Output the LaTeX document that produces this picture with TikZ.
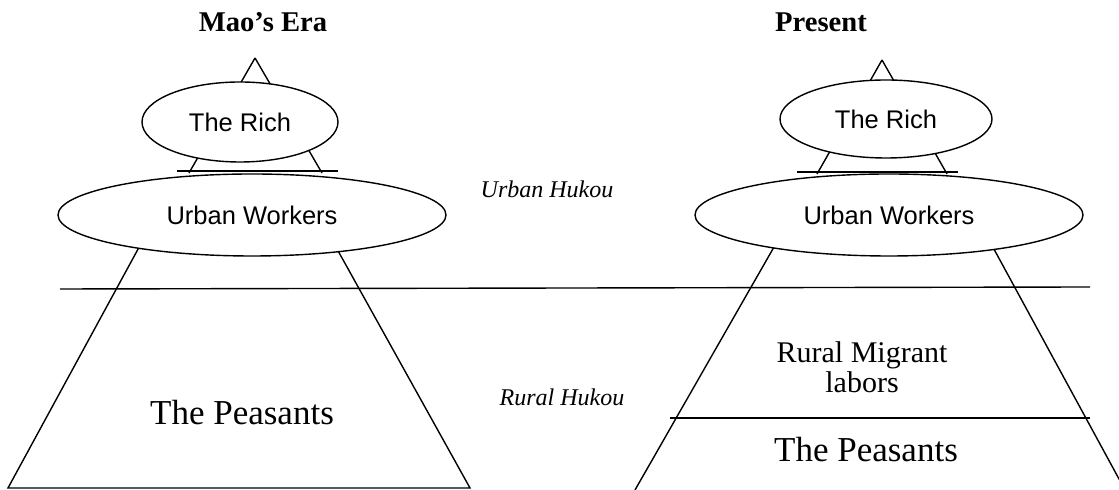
\documentclass[tikz,border=0pt]{standalone}
\usepackage{fontspec}
\setmainfont{Liberation Serif}
\newfontfamily\labelsf{Liberation Sans}
\usetikzlibrary{shapes.geometric}

\begin{document}
\begin{tikzpicture}[x=0.5pt, y=-0.5pt, line width=0.7pt,
    class/.style={ellipse, draw, fill=white, inner sep=0pt,
      font=\labelsf\fontsize{12.75}{15}\selectfont},
    era/.style={font=\bfseries\fontsize{14.3}{17}\selectfont},
    hukou/.style={font=\itshape\fontsize{12}{14}\selectfont, anchor=base},
    peasant/.style={font=\fontsize{17.5}{20}\selectfont, anchor=base}]
        % ==== FRAME ====
        \clip (0,0) rectangle (1119,490);
        % ==== LEFT PYRAMID (MAO'S ERA) ====
        \draw (255,58) -- (189,173) (255,58) -- (322,173);
        \draw (177,171) -- (338,171);
        \draw (143,240) -- (8,488) -- (470,488) -- (332,240);
        % ==== RIGHT PYRAMID (PRESENT) ====
        \draw (882,60) -- (817,174) (882,60) -- (947,174);
        \draw (797,172) -- (958,172);
        \draw (778,240) -- (635,490);
        \draw (989,240) -- (1125,490);
        \draw (670,418) -- (1090,418);
        % ==== HUKOU BORDER ====
        \draw (60,289) -- (1090,287);
        % ==== CLASSES ====
        \node[class, minimum width=98pt, minimum height=40pt] (richL) at (240,122) {The Rich};
        \node[class, minimum width=194pt, minimum height=41pt] (urbanL) at (252,215) {Urban Workers};
        \node[class, minimum width=106pt, minimum height=39pt] (richR) at (886,119) {The Rich};
        \node[class, minimum width=194pt, minimum height=41pt] (urbanR) at (889,215) {Urban Workers};
        \node[peasant] (peasantsL) at (242,425) {The Peasants};
        \node[peasant] (peasantsR) at (866,462) {The Peasants};
        \node[font=\fontsize{15}{15}\selectfont, align=center] (migrants) at (862,367) {Rural Migrant\\labors};
        % ==== Titles ====
        \node[era] (maoEra) at (263,22) {Mao’s Era};
        \node[era] (present) at (821,22) {Present};
        \node[hukou] (urbanHukou) at (547,198) {Urban Hukou};
        \node[hukou] (ruralHukou) at (562,406) {Rural Hukou};
\end{tikzpicture}
\end{document}
